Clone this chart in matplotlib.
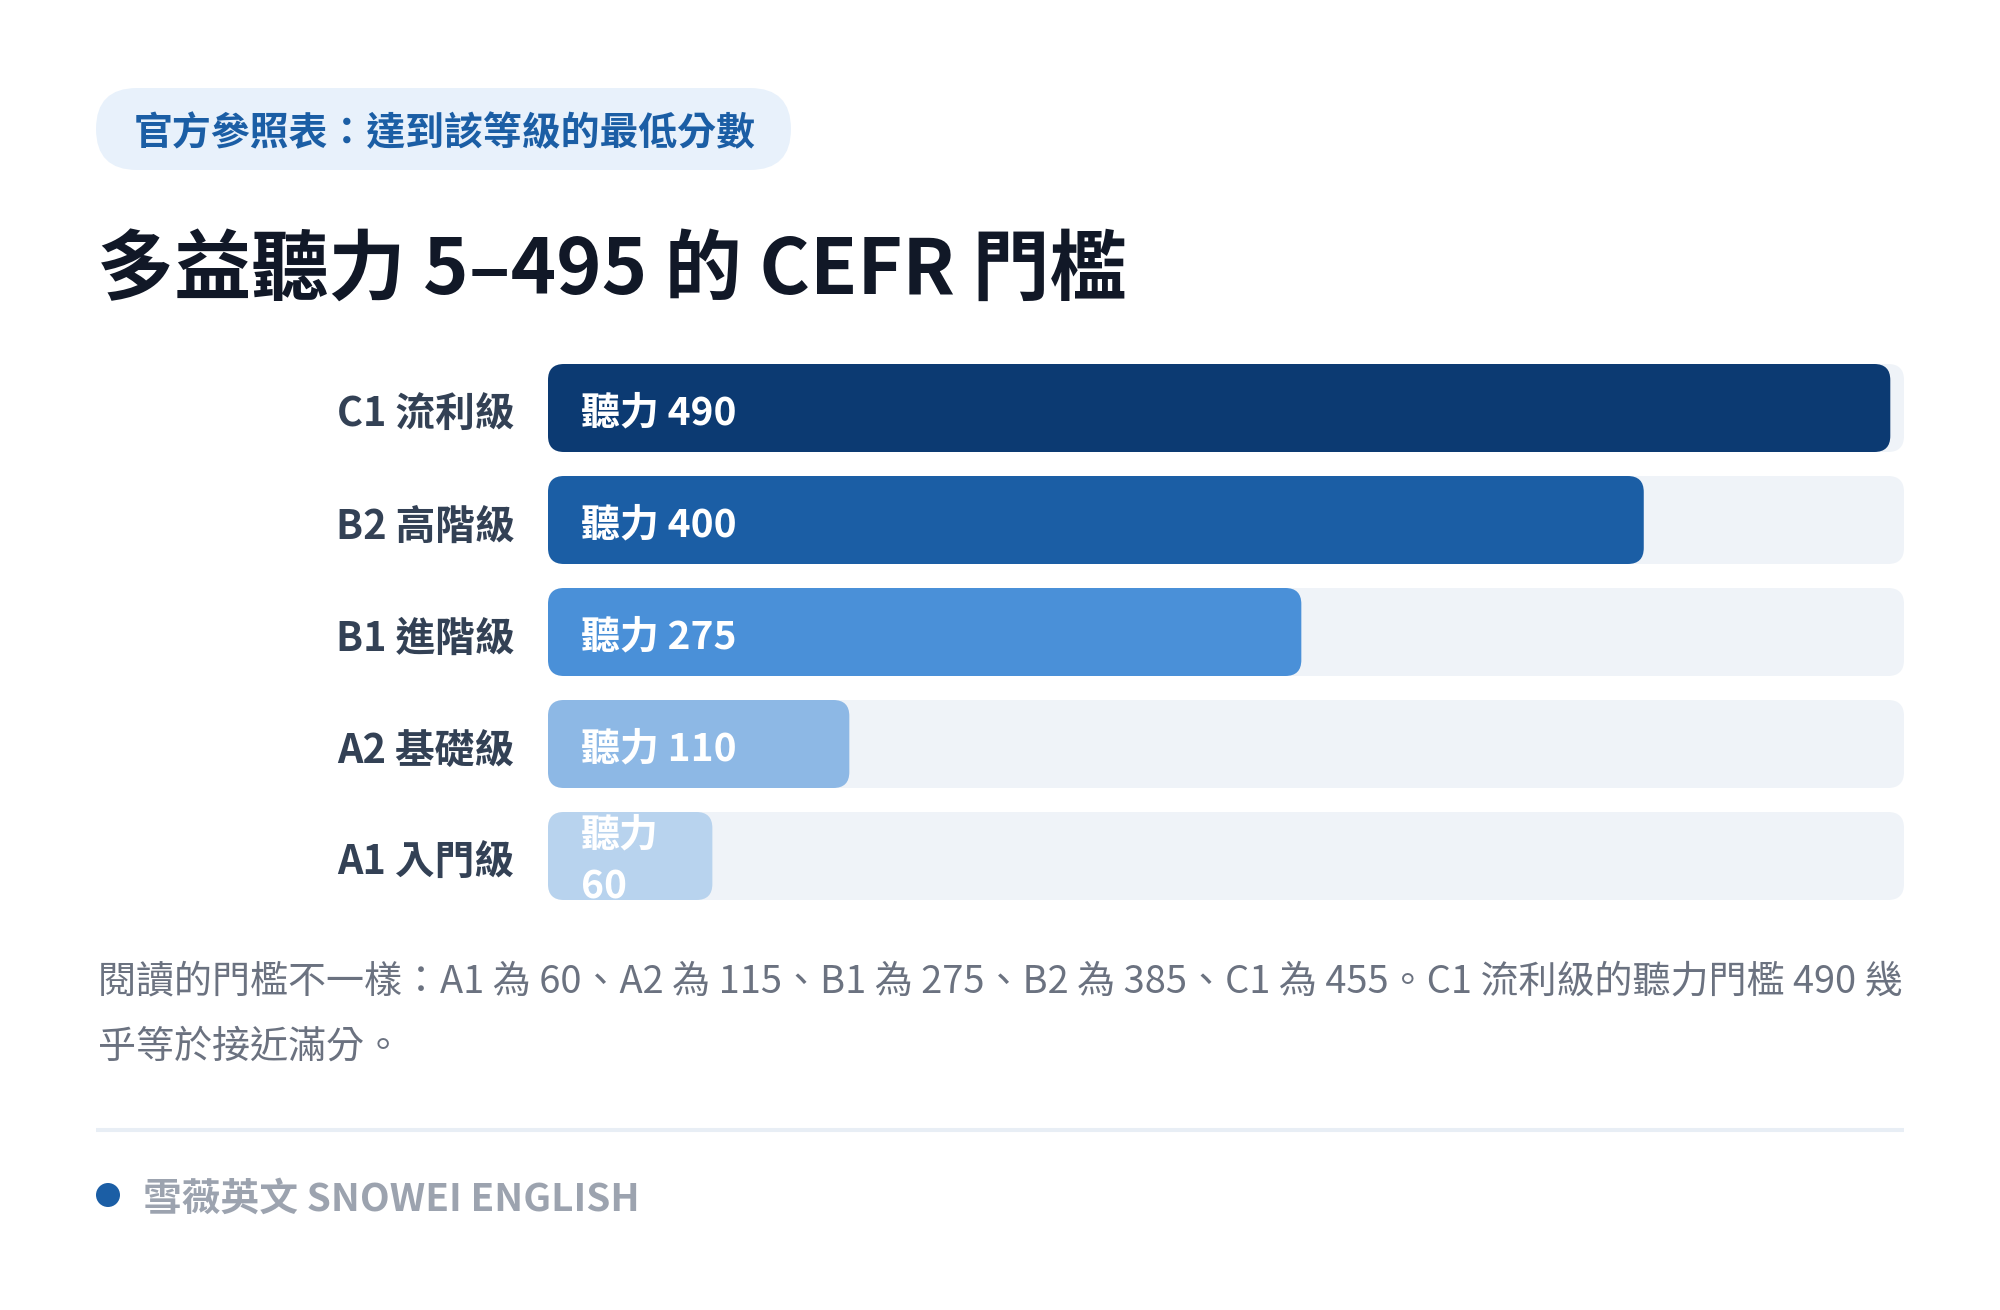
import numpy as np
import matplotlib
matplotlib.use('Agg')
import matplotlib.pyplot as plt
from matplotlib.patches import FancyBboxPatch, Circle
from matplotlib.transforms import offset_copy, Bbox, TransformedBbox, ScaledTranslation

plt.rcParams['font.family'] = ['Noto Sans CJK TC', 'DejaVu Sans']

# Data
levels = ['C1 流利級', 'B2 高階級', 'B1 進階級', 'A2 基礎級', 'A1 入門級']
listening = [490, 400, 275, 110, 60]
bar_colors = ['#0C3A72', '#1B5EA5', '#4A90D8', '#8DB8E5', '#B8D3EE']
score_max = 495
value_prefix = '聽力'

badge_text = '官方參照表：達到該等級的最低分數'
title = '多益聽力 5–495 的 CEFR 門檻'
note_lines = ['閱讀的門檻不一樣：A1 為 60、A2 為 115、B1 為 275、B2 為 385、C1 為 455。C1 流利級的聽力門檻 490 幾',
              '乎等於接近滿分。']
brand = '雪薇英文 SNOWEI ENGLISH'

W, H = 2000, 1310
fig = plt.figure(figsize=(20, 13.1), dpi=100)
fig.patch.set_facecolor('white')

# full-figure layer in pixel units for the header / footer decoration
deco = fig.add_axes([0, 0, 1, 1])
deco.set_xlim(0, W)
deco.set_ylim(H, 0)
deco.axis('off')

deco.add_patch(FancyBboxPatch((96, 88), 695, 82, boxstyle='round,pad=0,rounding_size=41',
                              fc='#E8F1FB', ec='none'))
deco.text(134, 134, badge_text, fontsize=28, fontweight='bold', color='#1B5EA5',
          ha='left', va='center')
deco.text(97, 271, title, fontsize=55.5, fontweight='black', color='#111827',
          ha='left', va='center')

for k, line in enumerate(note_lines):
    deco.text(98, 982 + 65 * k, line, fontsize=27.4, color='#6B7280', ha='left', va='center')

deco.plot([96, 1904], [1130, 1130], color='#E8EEF5', lw=2.9, solid_capstyle='butt')
deco.add_patch(Circle((108, 1195), 12, fc='#1B5EA5', ec='none'))
deco.text(143, 1199, brand, fontsize=27.9, fontweight='bold', color='#9CA3AF',
          ha='left', va='center')

# bar chart
ax_left, ax_w = 548, 1356
pitch = 112
n = len(levels)
ax_h = pitch * n
ax_top = 408 - pitch / 2
ax = fig.add_axes([ax_left / W, (H - ax_top - ax_h) / H, ax_w / W, ax_h / H])
ax.set_xlim(0, score_max)
ax.set_ylim(n - 0.5, -0.5)
ax.set_facecolor('none')
for s in ax.spines.values():
    s.set_visible(False)

bar_h = 88 / pitch
px_per_x = ax_w / score_max
r = 16 / px_per_x
asp = px_per_x / pitch
style = f'round,pad=0,rounding_size={r}'

label_tr = offset_copy(ax.transData, fig=fig, x=33, y=-5, units='dots')
for i, (v, c) in enumerate(zip(listening, bar_colors)):
    ax.add_patch(FancyBboxPatch((0, i - bar_h / 2), score_max, bar_h, boxstyle=style,
                                mutation_aspect=asp, fc='#EFF3F8', ec='none'))
    ax.add_patch(FancyBboxPatch((0, i - bar_h / 2), v, bar_h, boxstyle=style,
                                mutation_aspect=asp, fc=c, ec='none'))
    sep = '\n' if v * px_per_x < 200 else ' '
    t = ax.text(0, i, f'{value_prefix}{sep}{v}', transform=label_tr, fontsize=28,
                fontweight='bold', color='white', ha='left', va='center', linespacing=1.45)
    t.set_clip_box(TransformedBbox(Bbox([[0, i - bar_h / 2], [v, i + bar_h / 2]]), ax.transData))
    t.set_clip_on(True)

ax.set_yticks(range(n))
ax.set_yticklabels(levels, fontsize=28.6, fontweight='bold', color='#334155')
ax.tick_params(axis='y', length=0, pad=24)
ax.tick_params(axis='x', bottom=False, labelbottom=False)
nudge = ScaledTranslation(0, -3 / 100, fig.dpi_scale_trans)
for lab in ax.get_yticklabels():
    lab.set_transform(lab.get_transform() + nudge)

fig.savefig('out.png', dpi=100, facecolor='white')
